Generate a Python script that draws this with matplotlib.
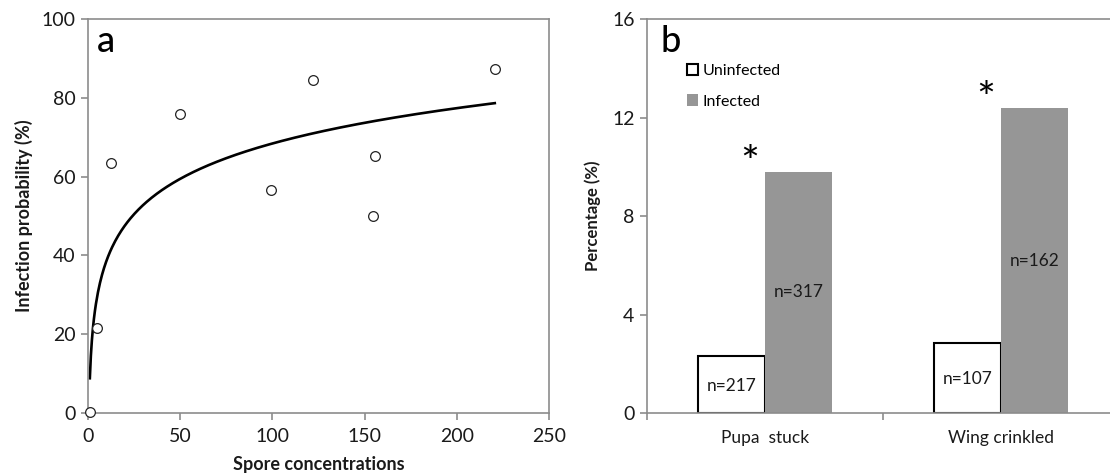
import numpy as np
import matplotlib
matplotlib.use("Agg")
import matplotlib.pyplot as plt

plt.rcParams['font.family'] = ['Lato', 'DejaVu Sans']

# panel a data: spore concentration vs infection probability (%)
spore = [1, 4.8, 12.4, 50.1, 99.4, 122.2, 154.5, 155.6, 220.6]
infection = [0.3, 21.6, 63.4, 75.9, 56.6, 84.5, 50.1, 65.2, 87.3]

# panel b data
categories = ['Pupa  stuck', 'Wing crinkled']
uninfected = [2.30, 2.85]
infected = [9.79, 12.38]
n_uninfected = ['n=217', 'n=107']
n_infected = ['n=317', 'n=162']

spine_col = '#8c8c8c'
txt_col = '#1a1a1a'

fig = plt.figure(figsize=(11.10, 4.74), dpi=100)
ax1 = fig.add_axes([88 / 1110, 61 / 474, 461 / 1110, 394 / 474])
ax2 = fig.add_axes([647 / 1110, 61 / 474, 472 / 1110, 394 / 474])

for ax in (ax1, ax2):
    for s in ax.spines.values():
        s.set_color(spine_col)
        s.set_linewidth(1.2)
    ax.tick_params(axis='both', which='both', direction='out', length=5,
                   width=1.2, color=spine_col, labelsize=14,
                   labelcolor=txt_col, pad=4)

# ---- panel a ----
# logarithmic trendline fitted to the points
a_coef, b_coef = np.polyfit(np.log(spore), infection, 1)
xs = np.linspace(min(spore), max(spore), 400)
ax1.plot(xs, a_coef * np.log(xs) + b_coef, color='black', lw=1.9, zorder=2)
ax1.plot(spore, infection, 'o', mfc='white', mec='#222222', mew=0.9,
         ms=7, zorder=3, clip_on=False)
ax1.set_xlim(0, 250)
ax1.set_ylim(0, 100)
ax1.set_xticks(range(0, 251, 50))
ax1.set_yticks(range(0, 101, 20))
ax1.tick_params(axis='x', pad=6)
ax1.set_xlabel('Spore concentrations', fontsize=13, fontweight='bold',
               color=txt_col, labelpad=8)
ax1.set_ylabel('Infection probability (%)', fontsize=13, fontweight='bold',
               color=txt_col, labelpad=6)
ax1.text(0.02, 0.985, 'a', transform=ax1.transAxes, fontsize=26,
         fontweight='medium', va='top', ha='left', color='black')

# ---- panel b ----
w = 0.285
pos = np.arange(len(categories))
ax2.bar(pos - w / 2, uninfected, w, color='white', edgecolor='black',
        linewidth=1.5, label='Uninfected', zorder=2)
ax2.bar(pos + w / 2, infected, w, color='#969696', edgecolor='none',
        label='Infected', zorder=2)
for i in range(len(categories)):
    ax2.text(pos[i] - w / 2, uninfected[i] / 2 - 0.05, n_uninfected[i],
             ha='center', va='center', fontsize=12.5, color=txt_col)
    ax2.text(pos[i] + w / 2, infected[i] / 2, n_infected[i],
             ha='center', va='center', fontsize=12.5, color=txt_col)
    ax2.text(pos[i] - 0.065, infected[i] + 0.3, '*', ha='center',
             va='center', fontsize=32, color='black')

ax2.set_xlim(-0.5, 1.5)
ax2.set_ylim(0, 16)
ax2.set_yticks(range(0, 17, 4))
ax2.set_xticks(pos)
ax2.set_xticklabels(categories)
ax2.set_xticks([-0.5, 0.5, 1.5], minor=True)
ax2.tick_params(axis='x', which='major', length=0, pad=12, labelsize=12.5)
ax2.set_ylabel('Percentage (%)', fontsize=12, fontweight='bold',
               color=txt_col, labelpad=8)
ax2.text(0.028, 0.985, 'b', transform=ax2.transAxes, fontsize=26,
         fontweight='medium', va='top', ha='left', color='black')
ax2.legend(loc='upper left', bbox_to_anchor=(0.085, 0.885), frameon=False,
           fontsize=11.5, handlelength=0.7, handleheight=0.7,
           handletextpad=0.25, labelspacing=1.0, borderpad=0,
           borderaxespad=0)

fig.savefig('out.png', dpi=100)
